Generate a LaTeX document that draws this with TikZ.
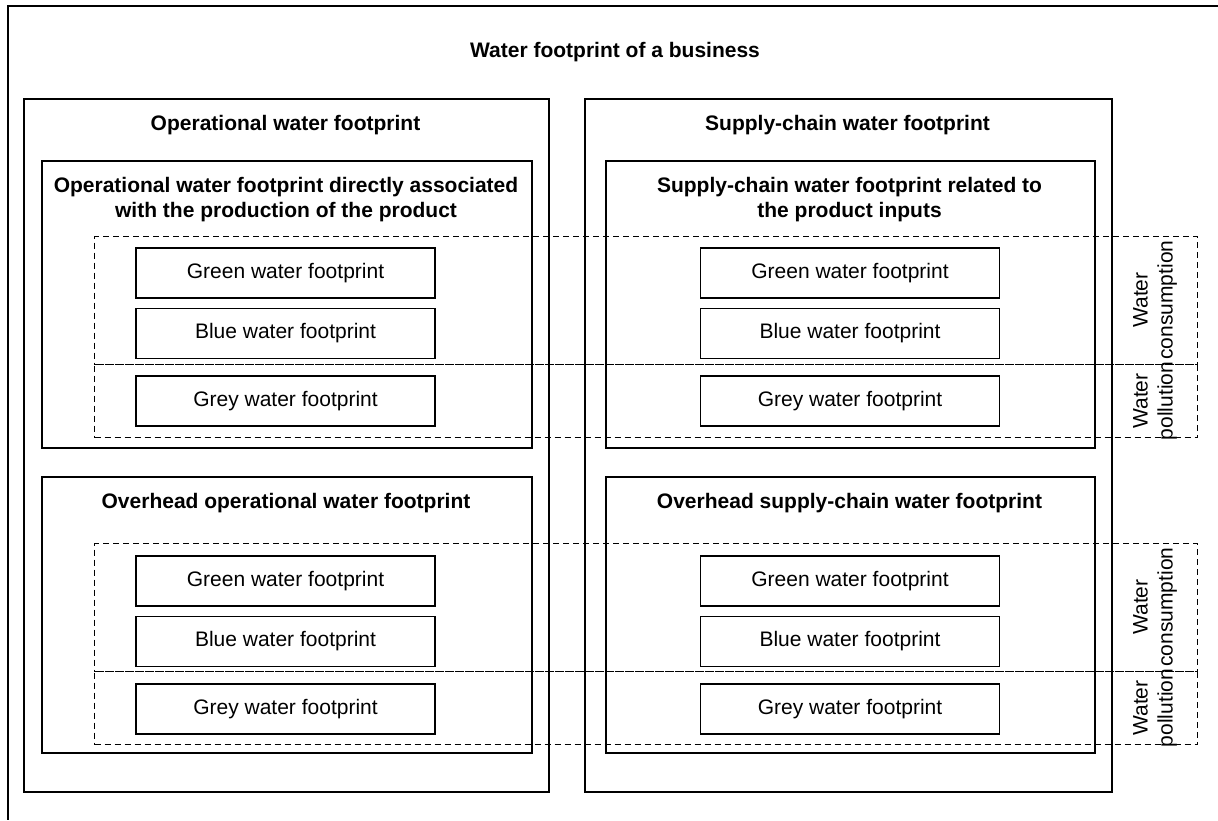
\documentclass[tikz,border=0pt]{standalone}
\usepackage{fontspec}
\setmainfont{Liberation Sans}
\usetikzlibrary{positioning}

\begin{document}
\begin{tikzpicture}[x=0.5pt, y=-0.5pt, line width=0.75pt]
    \tikzset{Frame/.style={rectangle, draw, anchor=north west, inner sep=0pt}};
    \tikzset{Heading/.style={font=\fontsize{10.5}{12.5}\selectfont\bfseries, align=center}};
    \tikzset{Item/.style={rectangle, draw, text centered, minimum width=149.5pt, minimum height=25pt, font=\fontsize{10.5}{12.5}\selectfont}};
    \tikzset{Zone/.style={rectangle, draw, dash pattern=on 3pt off 2pt, line width=0.7pt, anchor=north west, inner sep=0pt, minimum width=551.5pt}};
    \tikzset{Side/.style={rotate=90, align=center, font=\fontsize{10.5}{12.5}\selectfont}};

    \useasboundingbox (0,0) rectangle (1218,820);
    \coordinate (tr) at (1218,6);
    \coordinate (bl) at (8,820);
    \draw (tr) -| (bl);
    \node[Heading] (t) at (615,52) {Water footprint of a business};

    \node[Frame, minimum width=262.5pt, minimum height=346.5pt] (op) at (23,98) {};
    \node[Frame, minimum width=263.5pt, minimum height=346.5pt] (sc) at (584,98) {};
    \node[Heading] (opt) at (285.5,125) {Operational water footprint};
    \node[Heading] (sct) at (847.5,125) {Supply-chain water footprint};

    \node[Frame, minimum width=245pt, minimum height=143.5pt] (a) at (41,160) {};
    \node[Frame, minimum width=244.5pt, minimum height=143.5pt] (b) at (605,160) {};
    \node[Frame, minimum width=245pt, minimum height=138pt] (c) at (41,476) {};
    \node[Frame, minimum width=244.5pt, minimum height=138pt] (d) at (605,476) {};
    \node[Heading] (at) at (286,200) {Operational water footprint directly associated\\with the production of the product};
    \node[Heading] (bt) at (849.5,200) {Supply-chain water footprint related to\\the product inputs};
    \node[Heading] (ct) at (286,503) {Overhead operational water footprint};
    \node[Heading] (dt) at (849.5,503) {Overhead supply-chain water footprint};

    % consumption / pollution bands
    \node[Zone, minimum height=64pt] (zc1) at (94,236) {};
    \node[Zone, minimum height=36.5pt] (zp1) at (94,364) {};
    \node[Zone, minimum height=64pt] (zc2) at (94,543) {};
    \node[Zone, minimum height=36.5pt] (zp2) at (94,671) {};
    \node[Side] (sc1) at (1155,300) {Water\\consumption};
    \node[Side] (sp1) at (1155,401) {Water\\pollution};
    \node[Side] (sc2) at (1155,607) {Water\\consumption};
    \node[Side] (sp2) at (1155,708) {Water\\pollution};

    \node[Item] (g1) at (285.5,273) {Green water footprint};
    \node[Item, below=4.5pt of g1] (u1) {Blue water footprint};
    \node[Item, below=8pt of u1] (r1) {Grey water footprint};
    \node[Item] (g2) at (850,273) {Green water footprint};
    \node[Item, below=4.5pt of g2] (u2) {Blue water footprint};
    \node[Item, below=8pt of u2] (r2) {Grey water footprint};
    \node[Item] (g3) at (285.5,581) {Green water footprint};
    \node[Item, below=4.5pt of g3] (u3) {Blue water footprint};
    \node[Item, below=8pt of u3] (r3) {Grey water footprint};
    \node[Item] (g4) at (850,581) {Green water footprint};
    \node[Item, below=4.5pt of g4] (u4) {Blue water footprint};
    \node[Item, below=8pt of u4] (r4) {Grey water footprint};
\end{tikzpicture}
\end{document}
